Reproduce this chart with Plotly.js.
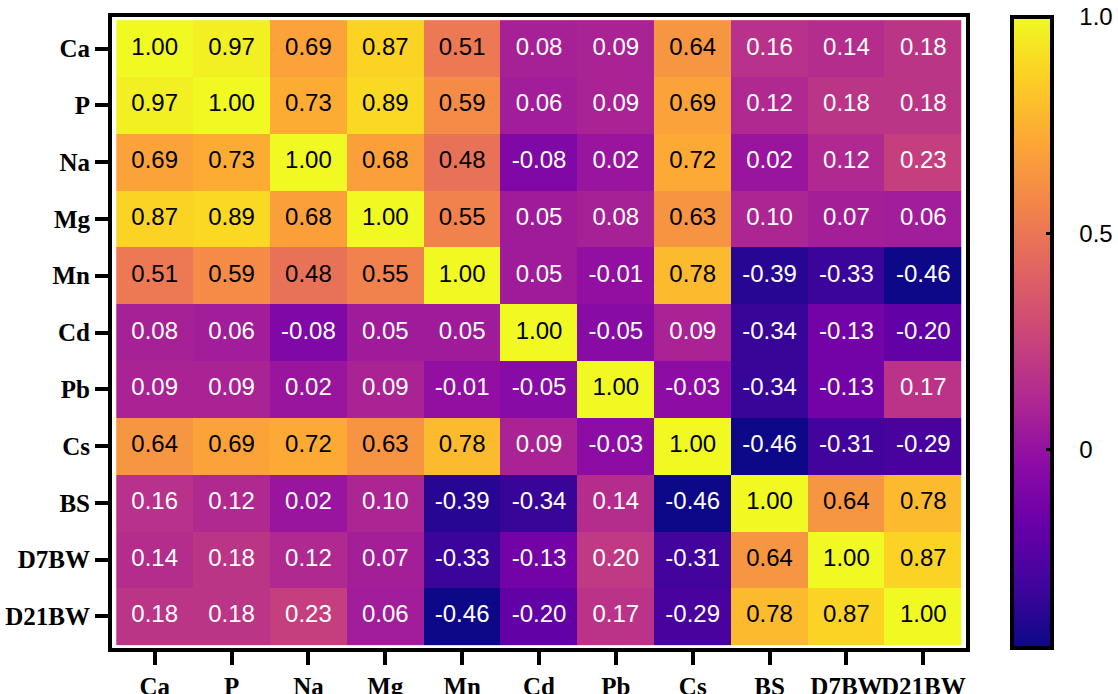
<!DOCTYPE html>
<html>
<head>
<meta charset="utf-8">
<script src="https://cdn.plot.ly/plotly-3.0.1.min.js"></script>
<style>html,body{margin:0;padding:0;background:#fff;}</style>
</head>
<body>
<div id="chart" style="width:1118px;height:694px;"></div>
<script>
const labels = ["Ca","P","Na","Mg","Mn","Cd","Pb","Cs","BS","D7BW","D21BW"];
const rowCa    = [1.00, 0.97, 0.69, 0.87, 0.51, 0.08, 0.09, 0.64, 0.16, 0.14, 0.18];
const rowP     = [0.97, 1.00, 0.73, 0.89, 0.59, 0.06, 0.09, 0.69, 0.12, 0.18, 0.18];
const rowNa    = [0.69, 0.73, 1.00, 0.68, 0.48, -0.08, 0.02, 0.72, 0.02, 0.12, 0.23];
const rowMg    = [0.87, 0.89, 0.68, 1.00, 0.55, 0.05, 0.08, 0.63, 0.10, 0.07, 0.06];
const rowMn    = [0.51, 0.59, 0.48, 0.55, 1.00, 0.05, -0.01, 0.78, -0.39, -0.33, -0.46];
const rowCd    = [0.08, 0.06, -0.08, 0.05, 0.05, 1.00, -0.05, 0.09, -0.34, -0.13, -0.20];
const rowPb    = [0.09, 0.09, 0.02, 0.09, -0.01, -0.05, 1.00, -0.03, -0.34, -0.13, 0.17];
const rowCs    = [0.64, 0.69, 0.72, 0.63, 0.78, 0.09, -0.03, 1.00, -0.46, -0.31, -0.29];
const rowBS    = [0.16, 0.12, 0.02, 0.10, -0.39, -0.34, 0.14, -0.46, 1.00, 0.64, 0.78];
const rowD7BW  = [0.14, 0.18, 0.12, 0.07, -0.33, -0.13, 0.20, -0.31, 0.64, 1.00, 0.87];
const rowD21BW = [0.18, 0.18, 0.23, 0.06, -0.46, -0.20, 0.17, -0.29, 0.78, 0.87, 1.00];
const cbTickVals = [0, 0.5, 1];
const cbTickText = ["0", "0.5", "1.0"];

const z = [rowCa,rowP,rowNa,rowMg,rowMn,rowCd,rowPb,rowCs,rowBS,rowD7BW,rowD21BW];

const plasma = [
  [0.0,"#0d0887"],[0.1,"#41049d"],[0.2,"#6a00a8"],[0.3,"#8f0da4"],
  [0.4,"#b12a90"],[0.5,"#cc4778"],[0.6,"#e16462"],[0.7,"#f2844b"],
  [0.8,"#fca636"],[0.9,"#fcce25"],[1.0,"#f0f921"]
];

const tx = [], ty = [], tt = [], tc = [];
z.forEach((row, i) => row.forEach((v, j) => {
  tx.push(labels[j]); ty.push(labels[i]);
  tt.push(v.toFixed(2));
  tc.push(v >= 0.4 ? "#000000" : "#ffffff");
}));

const pad = "\u00a0\u00a0\u00a0";
const heat = {
  type: "heatmap",
  x: labels, y: labels, z: z,
  colorscale: plasma, zmin: -0.46, zmax: 1.0,
  xgap: 0, ygap: 0,
  hoverinfo: "skip",
  colorbar: {
    x: 1.054, xanchor: "left", xpad: 0,
    y: 0.5, yanchor: "middle", len: 1.0, lenmode: "fraction", ypad: 0,
    thickness: 40, outlinewidth: 4, outlinecolor: "#000",
    tickvals: cbTickVals, ticktext: cbTickText.map(t => pad + t),
    ticks: "inside", ticklen: 8, tickwidth: 3, tickcolor: "#000",
    tickfont: {family: "Arial, Liberation Sans, sans-serif", size: 24, color: "#000"}
  }
};

const txt = {
  type: "scatter", mode: "text",
  x: tx, y: ty, text: tt,
  textposition: "middle center",
  textfont: {family: "Arial, Liberation Sans, sans-serif", size: 24, color: tc},
  hoverinfo: "skip", showlegend: false
};

const axisFont = {family: "Times New Roman, Liberation Serif, serif", size: 25, color: "#000", weight: "bold"};

const layout = {
  width: 1118, height: 694,
  margin: {l: 112, r: 152, t: 17, b: 46, pad: 0, autoexpand: false},
  paper_bgcolor: "#fff", plot_bgcolor: "#fff",
  showlegend: false,
  xaxis: {
    type: "category", tickvals: labels, ticktext: labels, tickangle: 0,
    ticks: "outside", ticklen: 13, tickwidth: 4, tickcolor: "#000",
    showline: true, mirror: true, linewidth: 4, linecolor: "#000",
    showgrid: false, zeroline: false, tickfont: axisFont, fixedrange: true,
    automargin: false
  },
  yaxis: {
    type: "category", autorange: "reversed", tickvals: labels, ticktext: labels,
    ticks: "outside", ticklen: 13, tickwidth: 4, tickcolor: "#000",
    showline: true, mirror: true, linewidth: 4, linecolor: "#000",
    showgrid: false, zeroline: false, tickfont: axisFont, fixedrange: true,
    automargin: false
  }
};

Plotly.newPlot("chart", [heat, txt], layout, {staticPlot: true, displayModeBar: false});
</script>
</body>
</html>
